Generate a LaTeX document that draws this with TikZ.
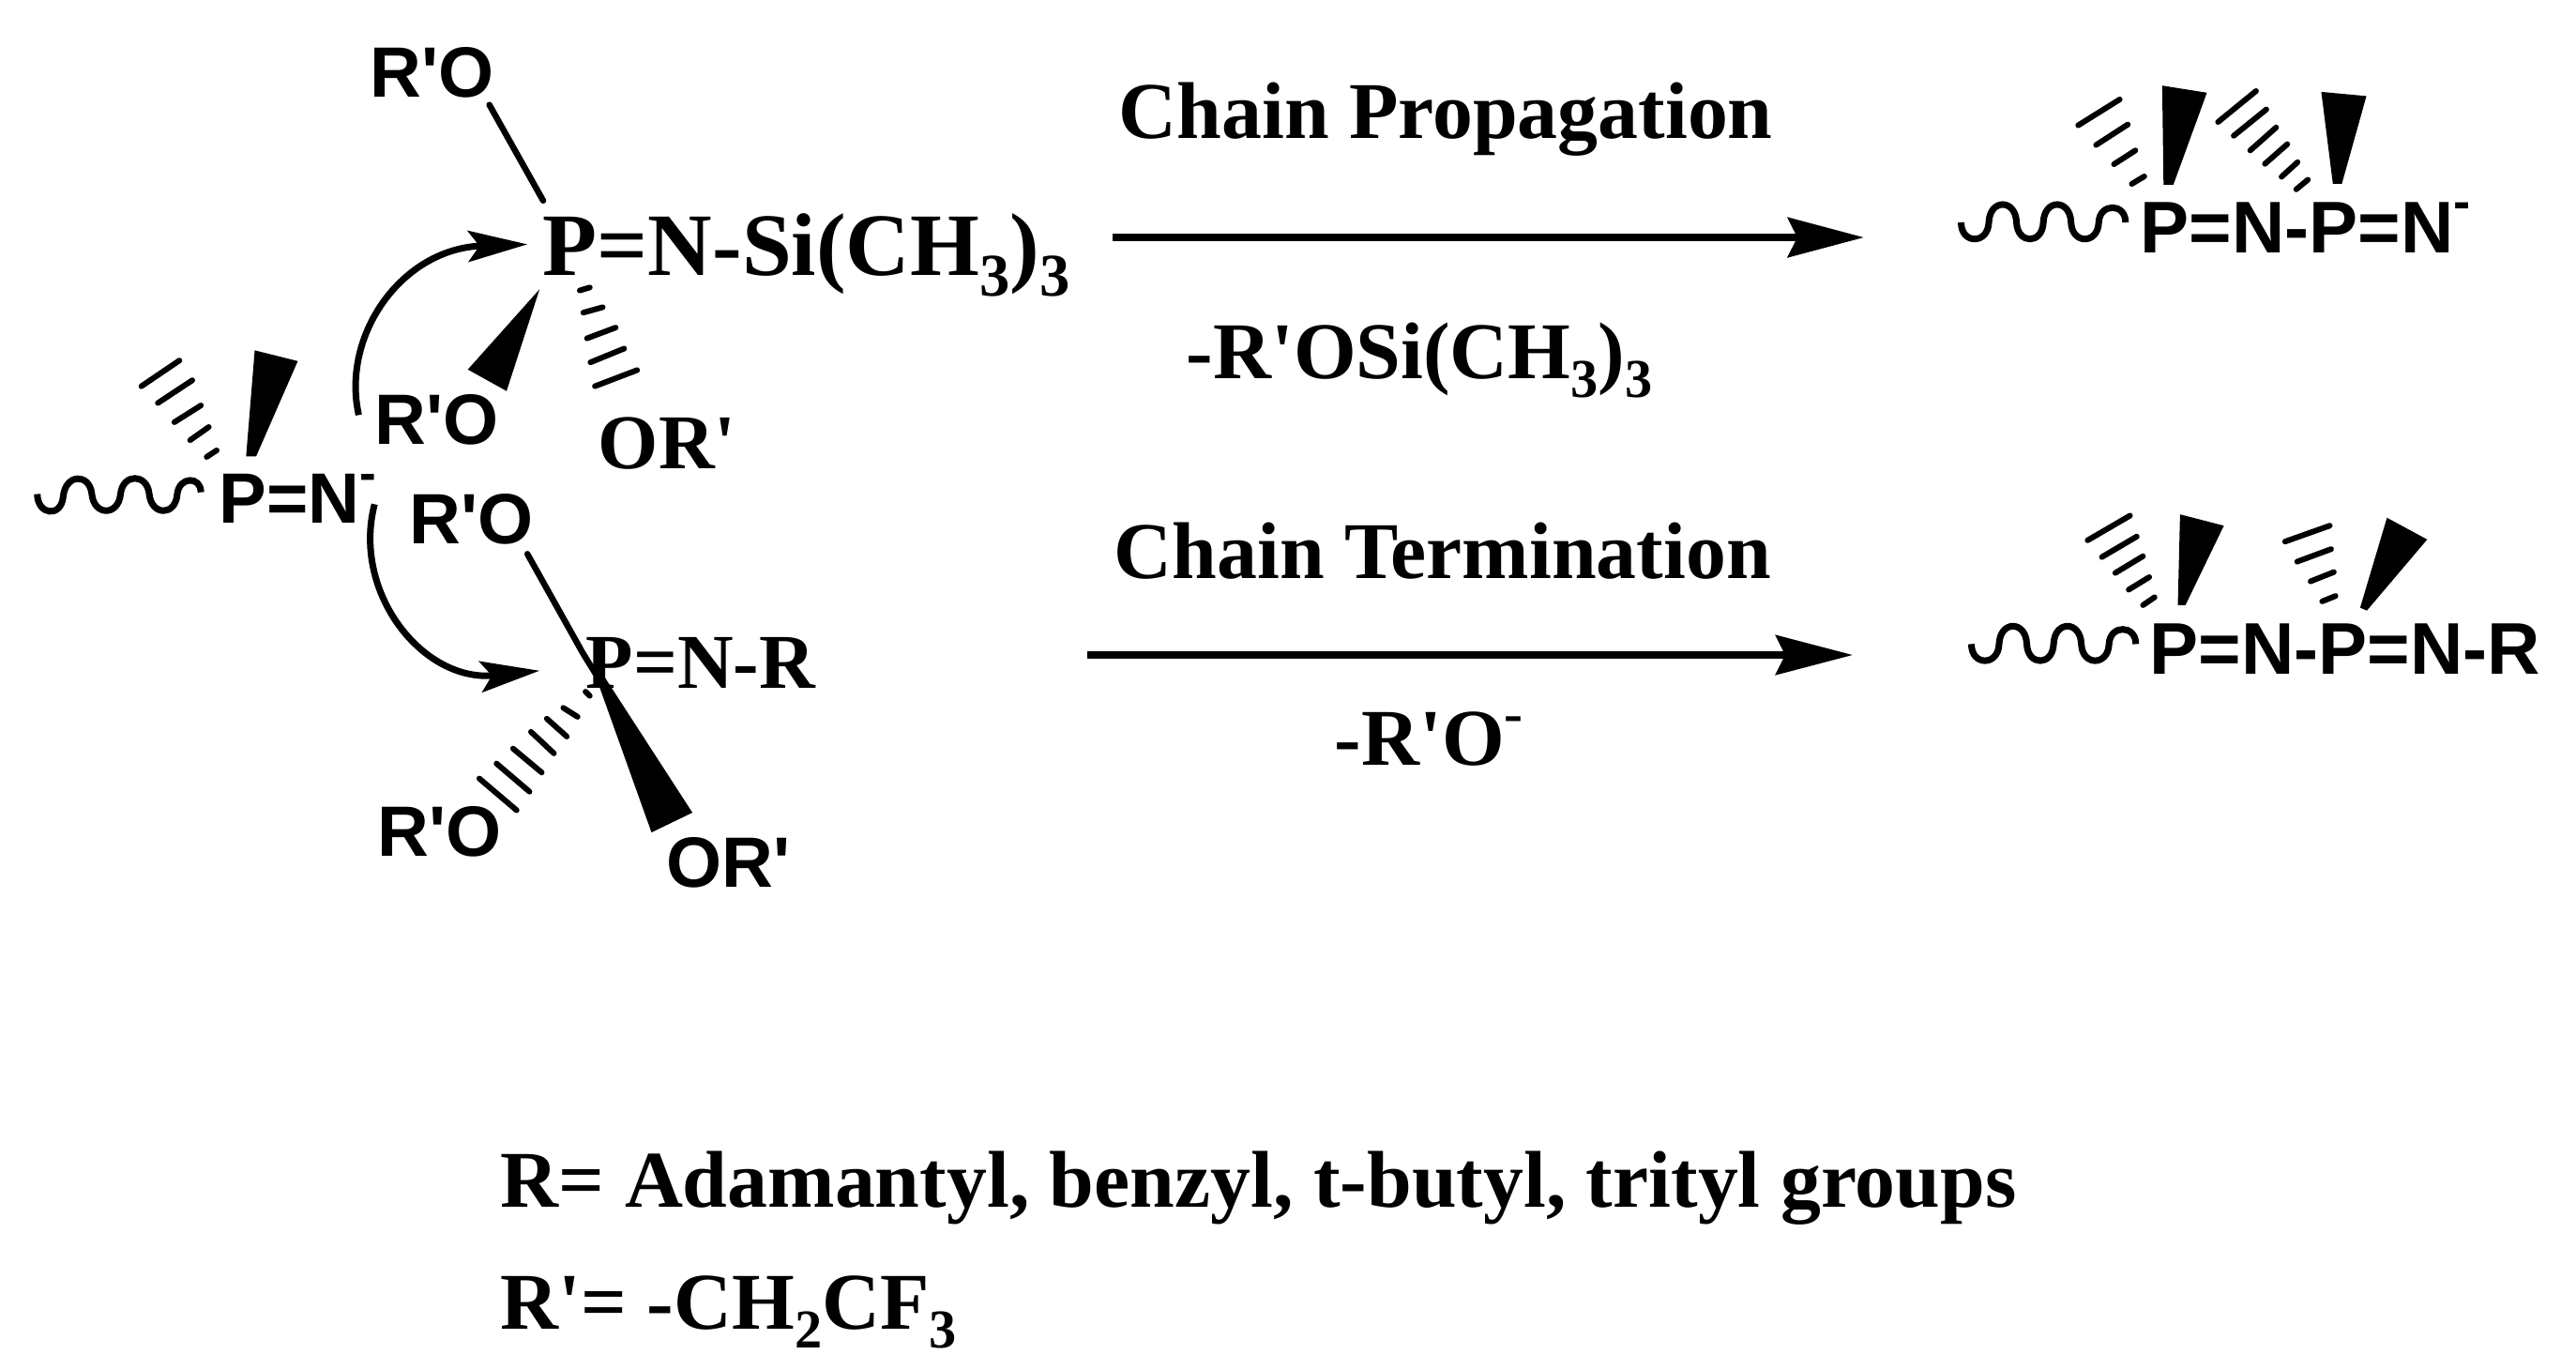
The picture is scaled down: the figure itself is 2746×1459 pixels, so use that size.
\documentclass[tikz,border=0pt]{standalone}
\usepackage{graphicx}
\usepackage{fontspec}
\setmainfont{Liberation Serif}[Ligatures=TeXOff]
\setsansfont{Liberation Sans}[Ligatures=TeXOff]
\usetikzlibrary{arrows.meta}
\newcommand{\sbs}[1]{\raisebox{-.24em}{\scalebox{.68}{#1}}}
\newcommand{\sps}[2][.45em]{\raisebox{#1}{\scalebox{.7}{#2}}}
\tikzset{
  x=0.01cm,y=-0.01cm,
  sanslabel/.style={inner sep=0pt,anchor=base west,font=\fontsize{21.6}{26}\selectfont\sffamily\bfseries},
  sanssmall/.style={inner sep=0pt,anchor=base west,font=\fontsize{22.2}{26}\selectfont\sffamily\bfseries},
  seriflabel/.style={inner sep=0pt,anchor=base west,font=\fontsize{24.4}{28}\selectfont\bfseries},
  serifmid/.style={inner sep=0pt,anchor=base west,font=\fontsize{23.5}{28}\selectfont\bfseries},
  serifbig/.style={inner sep=0pt,anchor=base west,font=\fontsize{27}{30}\selectfont\bfseries},
  bond/.style={line width=0.065cm,line cap=round},
  hashline/.style={line width=0.06cm,line cap=round},
  wedgefill/.style={fill=black,draw=none},
  wavy/.style={line width=0.07cm,line cap=butt},
  curlyarrow/.style={line width=0.07cm,-{Stealth[length=0.63cm,width=0.33cm,inset=0.12cm]}},
  rxnarrow/.style={line width=0.087cm,-{Stealth[length=0.81cm,width=0.42cm,inset=0.1cm]}},
  rxnarrowthin/.style={line width=0.075cm,-{Stealth[length=0.82cm,width=0.42cm,inset=0.1cm]}}
}
\begin{document}
\begin{tikzpicture}
\useasboundingbox (0,0) rectangle (2746,1459);
% reaction arrows
\coordinate (a1s) at (1186,253); \coordinate (a1e) at (1987,253);
\coordinate (a2s) at (1159,698); \coordinate (a2e) at (1975,698);
\draw[rxnarrow] (a1s) -- (a1e);
\draw[rxnarrowthin] (a2s) -- (a2e);
% labels
\node[seriflabel] (cp) at (1192,147) {Chain Propagation};
\node[seriflabel] (si) at (1264,403) {-R'OSi(CH\sbs{3})\sbs{3}};
\node[seriflabel] (ct) at (1187,616) {Chain Termination};
\node[seriflabel] (ro) at (1422,815) {-R'O\sps[.4em]{-}};
\node[seriflabel] (l1) at (533,1286) {R= Adamantyl, benzyl, t-butyl, trityl groups};
\node[seriflabel] (l2) at (533,1416) {R'= -CH\sbs{2}CF\sbs{3}};
% molecule nodes
\node[sanslabel] (ro1) at (394,103) {R'O};
\node[serifbig] (pn1) at (578,293) {P=N-Si(CH\sbs{3})\sbs{3}};
\node[sanslabel] (ro2) at (399,473) {R'O};
\node[serifmid] (or1) at (637,499) {OR'};
\node[sanslabel] (pn0) at (233,557) {P=N\sps{-}};
\node[sanslabel] (ro3) at (436,579) {R'O};
\node[serifmid] (pn2) at (624,733) {P=N-R};
\node[sanslabel] (ro4) at (402,912) {R'O};
\node[sanslabel] (or2) at (710,945) {OR'};
\node[sanssmall] (pn3) at (2281,269) {P=N-P=N\sps{-}};
\node[sanssmall] (pn4) at (2291,718) {P=N-P=N-R};
% left group
\begin{scope}[x=0.00765cm,y=-0.00638cm]
\draw[bond] (682,175) -- (757,335);
\draw[bond] (735,925) -- (812,1090) -- (830,1125);
\fill[wedgefill] (752,483) -- (652,617) -- (706,653) -- cycle;
\fill[wedgefill] (343,762) -- (357,762) -- (415,603) -- (355,585) -- cycle;
\fill[wedgefill] (828,1122) -- (838,1122) -- (965,1357) -- (908,1390) -- cycle;
\foreach \a/\b/\c/\d in {808/485/822/480,813/522/840/513,818/565/858/547,823/605/870/582,829/645/888/618,
  197/645/250/602,220/673/268/635,243/705/280/677,265/735/291/713,288/763/302/752,
  816/1155/822/1162,785/1182/805/1197,762/1200/790/1230,740/1222/772/1258,715/1250/755/1290,692/1275/738/1322,668/1300/720/1353}
  \draw[hashline] (\a,\b) -- (\c,\d);
\draw[wavy] (52,825) .. controls (52,860) and (85,865) .. (88,830) .. controls (91,790) and (125,790) .. (128,825)
  .. controls (131,862) and (165,862) .. (168,825) .. controls (171,790) and (205,790) .. (208,825)
  .. controls (211,862) and (245,862) .. (247,825) .. controls (250,795) and (280,795) .. (280,822);
\coordinate (c1s) at (500,693); \coordinate (c1e) at (735,408);
\coordinate (c2s) at (522,842); \coordinate (c2e) at (752,1120);
\draw[curlyarrow] (c1s) .. controls (475,560) and (560,415) .. (c1e);
\draw[curlyarrow] (c2s) .. controls (490,990) and (590,1140) .. (c2e);
\end{scope}
% right group
\begin{scope}[shift={(2000,60)},x=0.00476cm,y=-0.00446cm]
\fill[wedgefill] (643,307) -- (665,307) -- (740,87) -- (640,70) -- cycle;
\fill[wedgefill] (1022,305) -- (1042,305) -- (1097,95) -- (996,85) -- cycle;
\fill[wedgefill] (675,1312) -- (692,1312) -- (778,1122) -- (680,1095) -- cycle;
\fill[wedgefill] (1083,1318) -- (1098,1325) -- (1233,1155) -- (1143,1103) -- cycle;
\foreach \a/\b/\c/\d in {452/165/545/103,492/212/563/163,532/258/580/225,572/305/600/287,
  765/157/850/83,800/190/873/127,837/225/895/170,870/257/920/210,907/288/943/253,940/318/966/295,
  473/1157/568/1098,505/1197/583/1148,535/1235/597/1195,565/1275/611/1245,597/1312/623/1293,
  915/1160/1015/1122,942/1208/1018/1178,972/1255/1024/1233,998/1303/1028/1290}
  \draw[hashline] (\a,\b) -- (\c,\d);
\draw[wavy] (190,397) .. controls (190,450) and (250,450) .. (252,397) .. controls (254,340) and (312,340) .. (314,397)
  .. controls (316,450) and (372,450) .. (374,397) .. controls (376,340) and (434,340) .. (436,397)
  .. controls (438,450) and (496,450) .. (498,397) .. controls (500,350) and (558,350) .. (558,397);
\draw[wavy] (213,1405) .. controls (213,1458) and (273,1458) .. (275,1405) .. controls (277,1348) and (335,1348) .. (337,1405)
  .. controls (339,1458) and (395,1458) .. (397,1405) .. controls (399,1348) and (457,1348) .. (459,1405)
  .. controls (461,1458) and (519,1458) .. (521,1405) .. controls (523,1358) and (581,1358) .. (581,1405);
\end{scope}
\end{tikzpicture}
\end{document}
